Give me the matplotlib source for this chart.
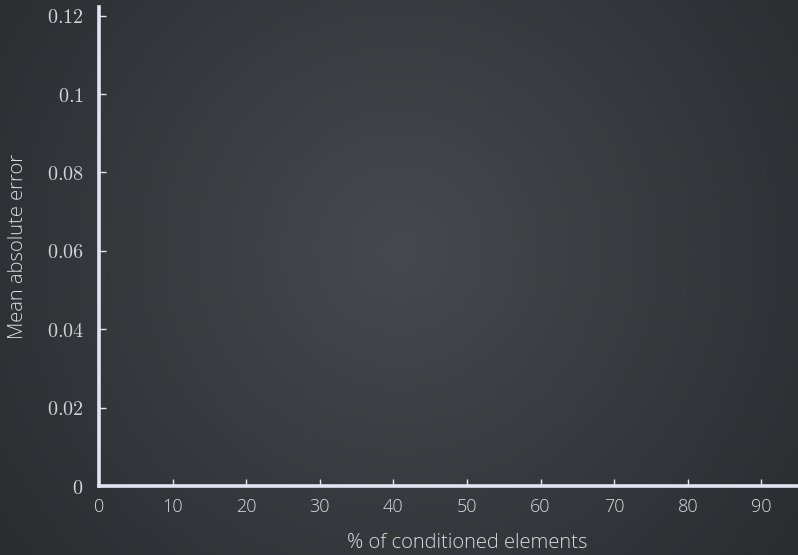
import numpy as np
import matplotlib
matplotlib.use("Agg")
import matplotlib.pyplot as plt

# Axis configuration
x_ticks = [0, 10, 20, 30, 40, 50, 60, 70, 80, 90]
x_limits = (0, 100)
y_ticks = [0, 0.02, 0.04, 0.06, 0.08, 0.1, 0.12]
y_tick_labels = ["0", "0.02", "0.04", "0.06", "0.08", "0.1", "0.12"]
y_limits = (0, 0.1222)
x_label = "% of conditioned elements"
y_label = "Mean absolute error"

plt.rcParams["mathtext.fontset"] = "cm"

W, H = 798, 555
fig = plt.figure(figsize=(W / 100, H / 100), dpi=100)

# Radial gradient backdrop
bg = fig.add_axes([0, 0, 1, 1], zorder=0)
yy, xx = np.mgrid[0:H, 0:W]
cx, cy = W * 0.5, H * 0.45
r = np.sqrt(((xx - cx) / (W * 0.62)) ** 2 + ((yy - cy) / (W * 0.62)) ** 2)
r = np.clip(r, 0, 1)
inner = np.array([0x48, 0x49, 0x4e]) / 255
outer = np.array([0x2b, 0x2c, 0x30]) / 255
img = inner[None, None, :] * (1 - r[..., None]) + outer[None, None, :] * r[..., None]
bg.imshow(img, aspect="auto", extent=[0, 1, 0, 1], interpolation="bilinear")
bg.set_axis_off()

spine_col = "#e6e4f4"
text_col = "#dcdcdf"
label_font = dict(family="Open Sans", fontweight=300)

# the plotting area runs on past the right edge of the canvas
ax_right_px = 835
ax = fig.add_axes([99 / W, 69 / H, (ax_right_px - 99) / W, (486 - 7) / H], zorder=1)
ax.patch.set_alpha(0)
ax.set_xlim(*x_limits)
ax.set_ylim(*y_limits)
for s in ("top", "right"):
    ax.spines[s].set_visible(False)
for s in ("left", "bottom"):
    ax.spines[s].set_color(spine_col)
    ax.spines[s].set_linewidth(2.6)

ax.set_xticks(x_ticks)
ax.set_xticklabels([str(v) for v in x_ticks], fontsize=13, color=text_col, **label_font)
ax.set_yticks(y_ticks)
ax.set_yticklabels([f"${t}$" for t in y_tick_labels], fontsize=14.5, color="#d2d2d6")
ax.tick_params(axis="both", direction="in", length=5, width=1, color=spine_col)
ax.tick_params(axis="x", pad=9)
ax.tick_params(axis="y", pad=11)

ax.set_xlabel(x_label, fontsize=14.5, color=text_col, labelpad=12, **label_font)
ax.set_ylabel(y_label, fontsize=14.5, color=text_col, labelpad=13, **label_font)

fig.savefig("out.png", dpi=100)
